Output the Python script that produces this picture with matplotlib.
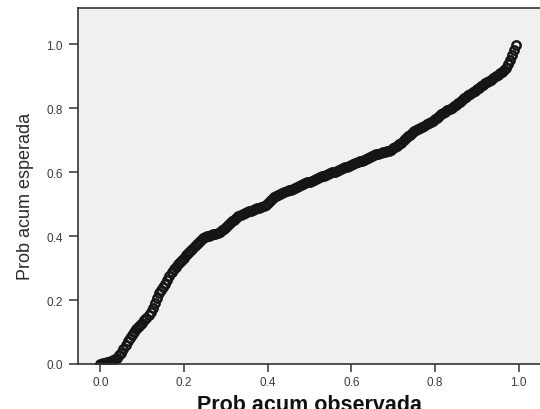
import matplotlib
matplotlib.use("Agg")
import matplotlib.pyplot as plt

# Observed cumulative probability (x) and expected cumulative probability (y)
obs_prob = [
    0.000, 0.005, 0.010, 0.015, 0.020, 0.025, 0.030, 0.035, 0.040, 0.045,
    0.050, 0.055, 0.060, 0.065, 0.070, 0.075, 0.080, 0.085, 0.090, 0.095,
    0.100, 0.105, 0.110, 0.115, 0.120, 0.125, 0.130, 0.135, 0.140, 0.145,
    0.150, 0.155, 0.160, 0.165, 0.170, 0.175, 0.180, 0.185, 0.190, 0.195,
    0.200, 0.205, 0.210, 0.215, 0.220, 0.225, 0.230, 0.235, 0.240, 0.245,
    0.250, 0.255, 0.260, 0.265, 0.270, 0.275, 0.280, 0.285, 0.290, 0.295,
    0.300, 0.305, 0.310, 0.315, 0.320, 0.325, 0.330, 0.335, 0.340, 0.345,
    0.350, 0.355, 0.360, 0.365, 0.370, 0.375, 0.380, 0.385, 0.390, 0.395,
    0.400, 0.405, 0.410, 0.415, 0.420, 0.425, 0.430, 0.435, 0.440, 0.445,
    0.450, 0.455, 0.460, 0.465, 0.470, 0.475, 0.480, 0.485, 0.490, 0.495,
    0.500, 0.505, 0.510, 0.515, 0.520, 0.525, 0.530, 0.535, 0.540, 0.545,
    0.550, 0.555, 0.560, 0.565, 0.570, 0.575, 0.580, 0.585, 0.590, 0.595,
    0.600, 0.605, 0.610, 0.615, 0.620, 0.625, 0.630, 0.635, 0.640, 0.645,
    0.650, 0.655, 0.660, 0.665, 0.670, 0.675, 0.680, 0.685, 0.690, 0.695,
    0.700, 0.705, 0.710, 0.715, 0.720, 0.725, 0.730, 0.735, 0.740, 0.745,
    0.750, 0.755, 0.760, 0.765, 0.770, 0.775, 0.780, 0.785, 0.790, 0.795,
    0.800, 0.805, 0.810, 0.815, 0.820, 0.825, 0.830, 0.835, 0.840, 0.845,
    0.850, 0.855, 0.860, 0.865, 0.870, 0.875, 0.880, 0.885, 0.890, 0.895,
    0.900, 0.905, 0.910, 0.915, 0.920, 0.925, 0.930, 0.935, 0.940, 0.945,
    0.950, 0.955, 0.960, 0.965, 0.970, 0.975, 0.980, 0.985, 0.990, 0.995,
]
exp_prob = [
    0.000, 0.002, 0.003, 0.005, 0.006, 0.009, 0.012, 0.016, 0.020, 0.027,
    0.035, 0.048, 0.060, 0.071, 0.080, 0.091, 0.100, 0.108, 0.115, 0.122,
    0.128, 0.137, 0.145, 0.153, 0.163, 0.175, 0.190, 0.207, 0.222, 0.232,
    0.240, 0.250, 0.262, 0.275, 0.287, 0.297, 0.305, 0.312, 0.318, 0.325,
    0.332, 0.340, 0.347, 0.354, 0.360, 0.368, 0.375, 0.382, 0.388, 0.393,
    0.397, 0.400, 0.402, 0.404, 0.406, 0.408, 0.410, 0.414, 0.418, 0.423,
    0.428, 0.434, 0.440, 0.446, 0.452, 0.458, 0.463, 0.467, 0.470, 0.473,
    0.475, 0.478, 0.480, 0.482, 0.484, 0.487, 0.489, 0.491, 0.494, 0.498,
    0.503, 0.510, 0.517, 0.523, 0.527, 0.530, 0.533, 0.536, 0.538, 0.541,
    0.543, 0.546, 0.549, 0.551, 0.554, 0.557, 0.560, 0.563, 0.566, 0.568,
    0.571, 0.573, 0.576, 0.578, 0.581, 0.584, 0.587, 0.589, 0.592, 0.594,
    0.597, 0.600, 0.602, 0.605, 0.607, 0.610, 0.613, 0.615, 0.618, 0.621,
    0.624, 0.626, 0.629, 0.631, 0.634, 0.636, 0.639, 0.642, 0.645, 0.648,
    0.651, 0.654, 0.656, 0.658, 0.660, 0.662, 0.664, 0.666, 0.668, 0.671,
    0.675, 0.679, 0.683, 0.688, 0.693, 0.700, 0.706, 0.712, 0.718, 0.723,
    0.728, 0.731, 0.735, 0.738, 0.742, 0.746, 0.750, 0.753, 0.757, 0.761,
    0.766, 0.771, 0.776, 0.781, 0.786, 0.790, 0.794, 0.798, 0.802, 0.806,
    0.811, 0.816, 0.821, 0.827, 0.832, 0.837, 0.842, 0.846, 0.851, 0.855,
    0.860, 0.864, 0.869, 0.873, 0.878, 0.882, 0.886, 0.890, 0.895, 0.900,
    0.905, 0.910, 0.915, 0.920, 0.925, 0.938, 0.952, 0.968, 0.983, 0.998,
]

tick_vals = [0.0, 0.2, 0.4, 0.6, 0.8, 1.0]
tick_labels = ["0.0", "0.2", "0.4", "0.6", "0.8", "1.0"]
x_label = "Prob acum observada"
y_label = "Prob acum esperada"

plt.rcParams["font.family"] = ["Liberation Sans", "DejaVu Sans"]

fig = plt.figure(figsize=(5.4, 4.1), dpi=100)
fig.patch.set_facecolor("white")
ax = fig.add_axes([0.145, 0.1098, 0.855, 0.8676])
ax.set_facecolor("#eff0f0")

ax.plot(obs_prob, exp_prob, linestyle="none", marker="o", markersize=6.0,
        markerfacecolor="none", markeredgecolor="#151515", markeredgewidth=1.8)

ax.set_xlim(-0.0531, 1.0514)
ax.set_ylim(0.0, 1.1133)

ax.set_xticks(tick_vals)
ax.set_xticklabels(tick_labels)
ax.set_yticks(tick_vals)
ax.set_yticklabels(tick_labels)

spine_col = "#333333"
for s in ["left", "bottom", "top"]:
    ax.spines[s].set_color(spine_col)
    ax.spines[s].set_linewidth(1.2)
ax.spines["right"].set_visible(False)

ax.tick_params(axis="x", length=6, width=1.1, color=spine_col, pad=3,
               labelsize=8.5, labelcolor="#3c3c3c")
ax.tick_params(axis="y", length=6.8, width=1.1, color=spine_col, pad=4.5,
               labelsize=8.5, labelcolor="#3c3c3c")

ax.set_xlabel(x_label, fontsize=15.5, fontweight="bold", color="#111111")
ax.xaxis.set_label_coords(0.5, -0.084)
ax.xaxis.label.set_va("top")

ax.text(-0.1154, 0.475, y_label, transform=ax.transAxes, rotation=90,
        ha="center", va="center", fontsize=13, color="#2a2a2a")

fig.savefig("out.png", dpi=100, facecolor="white")
